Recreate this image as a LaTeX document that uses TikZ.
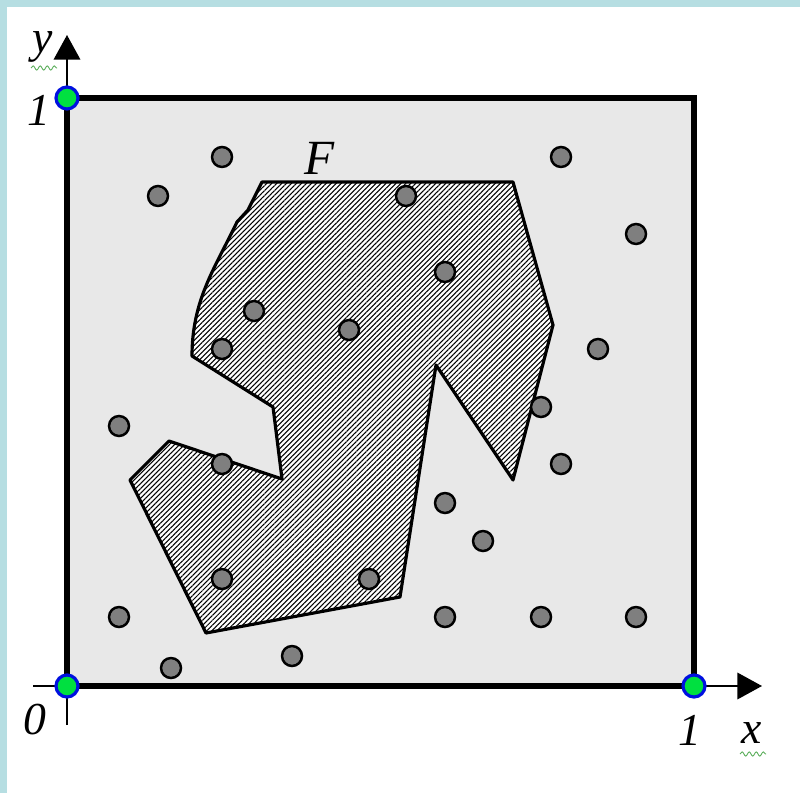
\documentclass[tikz,border=0pt]{standalone}
\usepackage{fontspec}
\setmainfont{Liberation Serif}
\usetikzlibrary{arrows.meta,patterns.meta,decorations.pathmorphing}
\definecolor{FrameBlue}{HTML}{B6DEE2}
\definecolor{SquareGray}{HTML}{E8E8E8}
\definecolor{DotGray}{HTML}{7F7F7F}
\definecolor{EndGreen}{HTML}{00E040}
\definecolor{RingBlue}{HTML}{0010E0}
\definecolor{WavyGreen}{HTML}{5AAE5A}

\begin{document}
\begin{tikzpicture}[x=0.02cm, y=-0.02cm,
  pt/.style={draw=black, circle, fill=DotGray, line width=1.4pt, minimum size=0.4cm, inner sep=0pt},
  endpt/.style={draw=RingBlue, circle, fill=EndGreen, line width=1.8pt, minimum size=0.44cm, inner sep=0pt},
  lbl/.style={font=\fontsize{26}{31}\selectfont\itshape, inner sep=0pt},
  axis/.style={draw=black, line width=1.3pt, -{Triangle[length=14pt,width=15pt]}},
  wavy/.style={draw=WavyGreen, line width=0.5pt, decorate, decoration={snake, amplitude=1.2pt, segment length=4pt}}]
\useasboundingbox (0,0) rectangle (800,793);
\fill[FrameBlue] (0,0) rectangle (800,793);
\fill[white] (7,7) rectangle (800,793);
\fill[SquareGray] (67,98) rectangle (694,686);
\draw[line width=1.8pt, line join=round, preaction={fill=white},
  pattern={Lines[angle=45, distance=2pt, line width=0.6pt]}]
  (262,182) -- (513,182) -- (553,325) -- (513,480) -- (436,365) -- (400,597)
  -- (206,633) -- (130,480) -- (169,441) -- (282,479) -- (273,407) -- (192,356)
  .. controls (192,300) and (215,268) .. (237,222) -- (248,210) -- cycle;
\coordinate (xa) at (33,686);
\coordinate (xb) at (762,686);
\coordinate (ya) at (67,725);
\coordinate (yb) at (67,35);
\draw[axis] (xa) -- (xb);
\draw[axis] (ya) -- (yb);
\draw[line width=3.2pt] (67,98) rectangle (694,686);
\foreach \px/\py [count=\i] in {222/157, 561/157, 158/196, 406/196, 636/234, 445/272,
  254/311, 349/330, 222/349, 598/349, 541/407, 119/426, 222/464, 561/464, 445/503,
  483/541, 222/579, 369/579, 119/617, 445/617, 541/617, 636/617, 171/668, 292/656}
  \node[pt] (d\i) at (\px,\py) {};
\node[endpt] (o)  at (67,686) {};
\node[endpt] (ex) at (694,686) {};
\node[endpt] (ey) at (67,98) {};
\node[lbl] (ylab) at (43,47) {y};
\node[lbl] (onev) at (39,110) {1};
\node[lbl] (zero) at (35,720) {0};
\node[lbl] (oneh) at (690,730) {1};
\node[lbl] (xlab) at (752,733) {x};
\node[lbl, font=\fontsize{28}{33}\selectfont\itshape] (flab) at (320,158) {F};
\draw[wavy] (31,68) -- (57,68);
\draw[wavy] (740,754) -- (766,754);
\end{tikzpicture}
\end{document}
